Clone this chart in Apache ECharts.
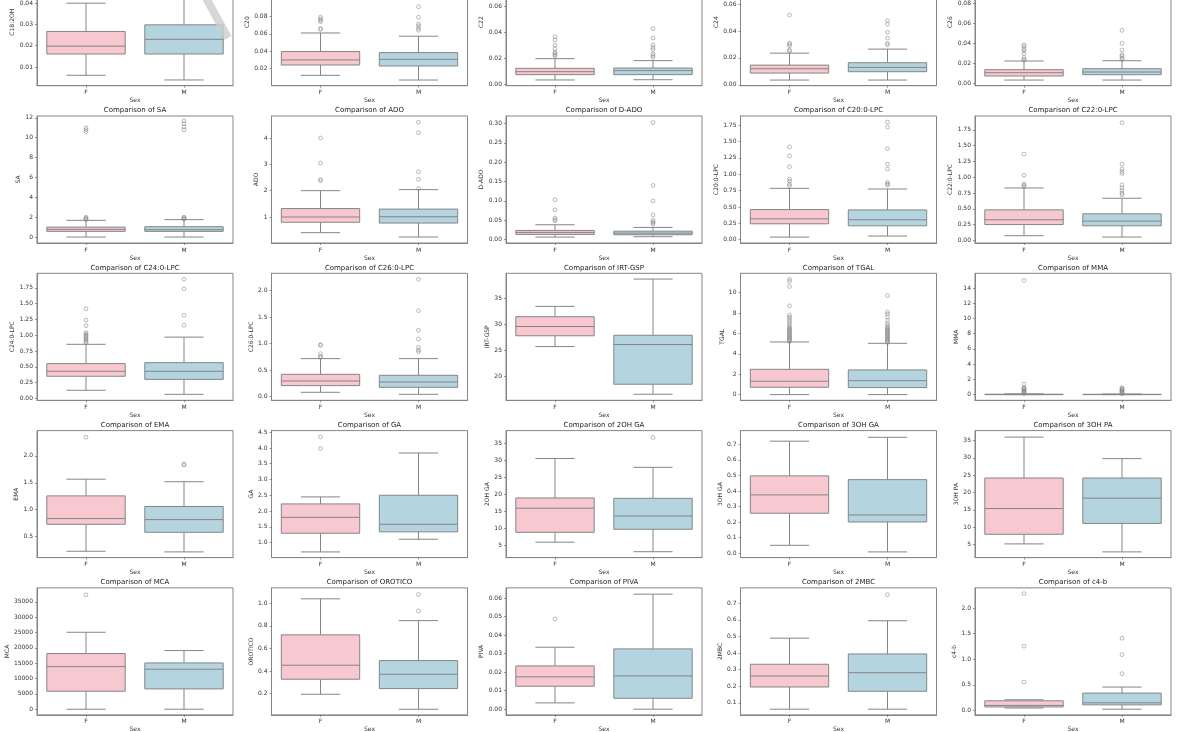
<!DOCTYPE html>
<html lang="en">
<head>
<meta charset="UTF-8">
<title>Comparison by Sex</title>
<style>
    html,
    body,
    #chart {
        margin: 0;
        padding: 0;
        width: 100%;
        height: 100%;
        overflow: hidden;
        background: #fff;
    }
</style>
</head>
<body>
<div id="chart"></div>
<script src="https://cdn.jsdelivr.net/npm/echarts@6.0.0/dist/echarts.min.js"></script>
<script>
    var metrics = ['C18:2OH', 'C20', 'C22', 'C24', 'C26',
        'SA', 'ADO', 'D-ADO', 'C20:0-LPC', 'C22:0-LPC',
        'C24:0-LPC', 'C26:0-LPC', 'IRT-GSP', 'TGAL', 'MMA',
        'EMA', 'GA', '2OH GA', '3OH GA', '3OH PA',
        'MCA', 'OROTICO', 'PIVA', '2MBC', 'c4-b'];
    var sexes = ['F', 'M'];

    // [whisker low, q1, median, q3, whisker high]
    var femaleBox = [
        [0.0061, 0.0161, 0.0198, 0.0267, 0.0400],
        [0.0124, 0.0242, 0.0300, 0.0396, 0.0609],
        [0.0036, 0.0077, 0.0100, 0.0126, 0.0200],
        [0.0035, 0.0087, 0.0119, 0.0146, 0.0235],
        [0.0036, 0.0076, 0.0109, 0.0139, 0.0225],
        [0.0, 0.57, 0.77, 1.0, 1.68],
        [0.405, 0.80, 1.0, 1.32, 2.0],
        [0.0068, 0.0137, 0.0188, 0.024, 0.0385],
        [0.04, 0.243, 0.319, 0.46, 0.784],
        [0.0735, 0.25, 0.326, 0.483, 0.83],
        [0.127, 0.349, 0.428, 0.55, 0.856],
        [0.082, 0.208, 0.296, 0.421, 0.717],
        [25.7, 27.8, 29.6, 31.5, 33.5],
        [0, 0.72, 1.31, 2.48, 5.16],
        [0, 0, 0.02, 0.05, 0.1],
        [0.228, 0.729, 0.835, 1.257, 1.567],
        [0.704, 1.296, 1.80, 2.226, 2.448],
        [6.0, 8.9, 16.0, 19.0, 30.6],
        [0.051, 0.257, 0.375, 0.497, 0.72],
        [5.2, 7.98, 15.4, 24.2, 36.0],
        [0, 5870, 13900, 18150, 25100],
        [0.194, 0.327, 0.451, 0.72, 1.039],
        [0.0034, 0.0124, 0.0175, 0.0234, 0.0335],
        [0.062, 0.196, 0.262, 0.333, 0.49],
        [0.05, 0.07, 0.10, 0.19, 0.21]
    ];
    var maleBox = [
        [0.0039, 0.0161, 0.0230, 0.0298, 0.0500],
        [0.0070, 0.0231, 0.0307, 0.0384, 0.0572],
        [0.0038, 0.0077, 0.0108, 0.0128, 0.0185],
        [0.0035, 0.0097, 0.0129, 0.0164, 0.0265],
        [0.0036, 0.0089, 0.0116, 0.0149, 0.0228],
        [0.0, 0.57, 0.74, 1.04, 1.75],
        [0.24, 0.77, 1.01, 1.30, 2.04],
        [0.0077, 0.0128, 0.017, 0.022, 0.0316],
        [0.056, 0.2125, 0.304, 0.455, 0.774],
        [0.0525, 0.231, 0.305, 0.42, 0.667],
        [0.063, 0.30, 0.428, 0.565, 0.97],
        [0.044, 0.176, 0.277, 0.403, 0.717],
        [16.45, 18.4, 26.1, 27.9, 38.8],
        [0, 0.69, 1.37, 2.42, 5.03],
        [0, 0, 0.02, 0.04, 0.08],
        [0.216, 0.58, 0.816, 1.06, 1.52],
        [1.106, 1.34, 1.58, 2.50, 3.84],
        [3.2, 9.8, 13.7, 18.9, 28.0],
        [0.0086, 0.201, 0.246, 0.473, 0.745],
        [2.9, 11.1, 18.4, 24.2, 29.8],
        [0, 6630, 13040, 15100, 19130],
        [0.061, 0.244, 0.371, 0.492, 0.846],
        [0.0, 0.0059, 0.018, 0.0326, 0.0622],
        [0.062, 0.17, 0.282, 0.395, 0.595],
        [0.026, 0.111, 0.15, 0.34, 0.458]
    ];

    var femaleOutliers = [
        [],
        [0.065, 0.066, 0.074, 0.075, 0.077, 0.079],
        [0.022, 0.023, 0.024, 0.025, 0.0275, 0.0305, 0.0345, 0.0368],
        [0.025, 0.0258, 0.029, 0.030, 0.031, 0.0518],
        [0.0235, 0.024, 0.026, 0.030, 0.0327, 0.0344, 0.0368, 0.0385],
        [1.75, 1.8, 1.9, 2.0, 10.6, 10.8, 11.0],
        [2.38, 2.42, 3.05, 4.0],
        [0.049, 0.052, 0.056, 0.077, 0.103],
        [0.825, 0.85, 0.896, 0.926, 1.113, 1.28, 1.417],
        [0.85, 0.872, 0.893, 1.03, 1.366],
        [0.88, 0.90, 0.92, 0.94, 0.96, 0.98, 1.0, 1.02, 1.04, 1.15, 1.24, 1.42],
        [0.74, 0.76, 0.81, 0.97, 0.98],
        [],
        [5.2, 5.3, 5.4, 5.5, 5.6, 5.7, 5.8, 5.9, 6.0, 6.1, 6.2, 6.3, 6.4, 6.5, 6.6, 6.8, 7.0, 7.2, 7.4, 7.6, 7.8, 8.7, 10.6, 11.1, 11.3],
        [0.15, 0.25, 0.35, 0.45, 0.55, 0.65, 0.75, 0.85, 0.95, 1.4, 15.0],
        [2.347],
        [3.98, 4.35],
        [],
        [],
        [],
        [37300],
        [],
        [0.0488],
        [],
        [0.556, 1.255, 2.28]
    ];
    var maleOutliers = [
        [0.057],
        [0.064, 0.066, 0.069, 0.071, 0.079, 0.091, 0.138],
        [0.021, 0.0223, 0.0236, 0.027, 0.0285, 0.0305, 0.0359, 0.0431, 0.092],
        [0.0297, 0.0307, 0.0347, 0.039, 0.045, 0.0476],
        [0.0241, 0.0255, 0.0274, 0.0288, 0.0334, 0.040, 0.0529],
        [1.8, 1.85, 1.95, 2.0, 10.8, 11.1, 11.4, 11.7],
        [2.08, 2.43, 2.72, 4.2, 4.6],
        [0.04, 0.043, 0.046, 0.05, 0.064, 0.10, 0.14, 0.302],
        [0.835, 0.85, 0.875, 1.078, 1.154, 1.39, 1.72, 1.796],
        [0.72, 0.745, 0.79, 0.83, 0.88, 1.06, 1.09, 1.13, 1.208, 1.865],
        [1.157, 1.316, 1.734, 1.887],
        [0.85, 0.88, 0.931, 1.088, 1.252, 1.623, 2.214],
        [],
        [5.1, 5.2, 5.3, 5.4, 5.5, 5.6, 5.7, 5.8, 5.9, 6.0, 6.1, 6.2, 6.3, 6.4, 6.5, 6.6, 6.8, 7.0, 7.3, 7.6, 7.9, 8.1, 9.7],
        [0.12, 0.2, 0.3, 0.4, 0.5, 0.6, 0.7, 0.8, 0.9],
        [1.83, 1.85],
        [],
        [36.8],
        [],
        [],
        [],
        [0.932, 1.077],
        [],
        [0.752],
        [0.72, 1.09, 1.41]
    ];

    var yRange = [
        [0.0012, 0.0609], [0.0005, 0.146], [-0.0008, 0.0969], [-0.0007, 0.0937], [-0.002, 0.124],
        [-0.6, 12.18], [0.013, 4.835], [-0.0085, 0.319], [-0.05, 1.888], [-0.042, 1.97],
        [-0.032, 1.982], [-0.069, 2.327], [15.28, 39.92], [-0.556, 11.89], [-0.744, 15.93],
        [0.110, 2.47], [0.524, 4.55], [1.47, 38.8], [-0.028, 0.788], [1.25, 37.88],
        [-1848, 39565], [0.011, 1.136], [-0.0031, 0.0656], [0.0277, 0.793], [-0.085, 2.392]
    ];
    var yTicks = [
        [0.01, 0.02, 0.03, 0.04, 0.05, 0.06],
        [0.02, 0.04, 0.06, 0.08, 0.10, 0.12, 0.14],
        [0.00, 0.02, 0.04, 0.06, 0.08],
        [0.00, 0.02, 0.04, 0.06, 0.08],
        [0.00, 0.02, 0.04, 0.06, 0.08, 0.10, 0.12],
        [0, 2, 4, 6, 8, 10, 12],
        [1, 2, 3, 4],
        [0.00, 0.05, 0.10, 0.15, 0.20, 0.25, 0.30],
        [0.00, 0.25, 0.50, 0.75, 1.00, 1.25, 1.50, 1.75],
        [0.00, 0.25, 0.50, 0.75, 1.00, 1.25, 1.50, 1.75],
        [0.00, 0.25, 0.50, 0.75, 1.00, 1.25, 1.50, 1.75],
        [0.0, 0.5, 1.0, 1.5, 2.0],
        [20, 25, 30, 35],
        [0, 2, 4, 6, 8, 10],
        [0, 2, 4, 6, 8, 10, 12, 14],
        [0.5, 1.0, 1.5, 2.0],
        [1.0, 1.5, 2.0, 2.5, 3.0, 3.5, 4.0, 4.5],
        [5, 10, 15, 20, 25, 30, 35],
        [0.0, 0.1, 0.2, 0.3, 0.4, 0.5, 0.6, 0.7],
        [5, 10, 15, 20, 25, 30, 35],
        [0, 5000, 10000, 15000, 20000, 25000, 30000, 35000],
        [0.2, 0.4, 0.6, 0.8, 1.0],
        [0.00, 0.01, 0.02, 0.03, 0.04, 0.05, 0.06],
        [0.1, 0.2, 0.3, 0.4, 0.5, 0.6, 0.7],
        [0.0, 0.5, 1.0, 1.5, 2.0]
    ];

    var boxColors = ['#f7c8d0', '#b4d4df'];
    var lineColor = '#858585';
    var frameColor = '#858585';
    var textColor = '#333';
    var fontFamily = 'DejaVu Sans';
    var smallSize = 6;
    var titleSize = 7;

    function decimalsOf(ticks) {
        var d = 0;
        ticks.forEach(function (t) {
            var s = String(t).split('.')[1];
            if (s && s.length > d) d = s.length;
        });
        return d;
    }

    // rough DejaVu Sans width of a numeric label
    function labelWidth(str) {
        var w = 0;
        for (var k = 0; k < str.length; k++) {
            w += str[k] === '.' ? 0.318 : 0.636;
        }
        return w * smallSize;
    }

    function renderBox(params, api) {
        var x = api.value(0);
        var pLo = api.coord([x, api.value(1)]);
        var pQ1 = api.coord([x, api.value(2)]);
        var pMed = api.coord([x, api.value(3)]);
        var pQ3 = api.coord([x, api.value(4)]);
        var pHi = api.coord([x, api.value(5)]);
        var band = api.size([1, 0])[0];
        var hw = band * 0.4, cw = band * 0.2, cx = pMed[0];
        var line = { stroke: lineColor, lineWidth: 1 };
        return {
            type: 'group',
            children: [
                { type: 'line', shape: { x1: cx, y1: pQ1[1], x2: cx, y2: pLo[1] }, style: line },
                { type: 'line', shape: { x1: cx, y1: pQ3[1], x2: cx, y2: pHi[1] }, style: line },
                { type: 'line', shape: { x1: cx - cw, y1: pLo[1], x2: cx + cw, y2: pLo[1] }, style: line },
                { type: 'line', shape: { x1: cx - cw, y1: pHi[1], x2: cx + cw, y2: pHi[1] }, style: line },
                {
                    type: 'rect',
                    shape: { x: cx - hw, y: pQ3[1], width: hw * 2, height: pQ1[1] - pQ3[1] },
                    style: { fill: boxColors[x], stroke: lineColor, lineWidth: 1 }
                },
                { type: 'line', shape: { x1: cx - hw, y1: pMed[1], x2: cx + hw, y2: pMed[1] }, style: line }
            ]
        };
    }

    var chart = echarts.init(document.getElementById('chart'));
    var grids = [], xAxes = [], yAxes = [], series = [], texts = [];

    metrics.forEach(function (name, i) {
        var row = Math.floor(i / 5), col = i % 5;
        var left = 37 + 234.5 * col, top = -41.3 + 157.3 * row;
        var w = 196, h = 127;
        var dec = decimalsOf(yTicks[i]);
        var widest = 0;
        yTicks[i].forEach(function (t) {
            widest = Math.max(widest, labelWidth(t.toFixed(dec)));
        });

        grids.push({
            left: left, top: top, width: w, height: h,
            show: true, borderColor: frameColor, borderWidth: 1,
            outerBoundsMode: 'none', containLabel: false
        });

        xAxes.push({
            type: 'category', gridIndex: i, data: sexes,
            name: 'Sex', nameLocation: 'middle', nameGap: 12,
            nameTextStyle: { fontSize: smallSize, color: textColor, fontFamily: fontFamily },
            axisLine: { show: true, onZero: false, lineStyle: { color: frameColor, width: 1 } },
            axisTick: { show: true, alignWithLabel: true, length: 2, lineStyle: { color: '#555', width: 0.6 } },
            axisLabel: { fontSize: smallSize, color: textColor, fontFamily: fontFamily, margin: 4 },
            splitLine: { show: false }
        });

        yAxes.push({
            type: 'value', gridIndex: i,
            min: yRange[i][0], max: yRange[i][1],
            name: name, nameLocation: 'middle', nameGap: widest + 6.5,
            nameTextStyle: { fontSize: smallSize, color: textColor, fontFamily: fontFamily },
            axisLine: { show: true, onZero: false, lineStyle: { color: frameColor, width: 1 } },
            axisTick: { show: true, length: 2, customValues: yTicks[i], lineStyle: { color: '#555', width: 0.6 } },
            axisLabel: {
                fontSize: smallSize, color: textColor, fontFamily: fontFamily, margin: 4,
                customValues: yTicks[i],
                formatter: function (v) { return (+v).toFixed(dec); }
            },
            splitLine: { show: false }
        });

        series.push({
            type: 'custom', xAxisIndex: i, yAxisIndex: i, clip: true, z: 2,
            renderItem: renderBox,
            encode: { x: 0, y: [1, 2, 3, 4, 5] },
            data: [[0].concat(femaleBox[i]), [1].concat(maleBox[i])]
        });

        var pts = femaleOutliers[i].map(function (v) { return [0, v]; })
            .concat(maleOutliers[i].map(function (v) { return [1, v]; }));
        series.push({
            type: 'scatter', xAxisIndex: i, yAxisIndex: i, clip: true, z: 3,
            symbol: 'circle', symbolSize: 3.8,
            itemStyle: { color: 'rgba(255,255,255,0)', borderColor: lineColor, borderWidth: 0.7 },
            data: pts
        });

        texts.push({
            type: 'text', silent: true,
            style: {
                text: 'Comparison of ' + name,
                x: left + w / 2, y: top - 5.5,
                textAlign: 'center', textVerticalAlign: 'middle',
                fontSize: titleSize, fontFamily: fontFamily, fill: '#222'
            }
        });
    });

    // faint grey streak over the top-left panel
    texts.push({
        type: 'line', silent: true, z: 10,
        shape: { x1: 206, y1: -2, x2: 228, y2: 38 },
        style: { stroke: 'rgba(205,205,205,0.8)', lineWidth: 8 }
    });

    chart.setOption({
        animation: false,
        backgroundColor: '#fff',
        grid: grids,
        xAxis: xAxes,
        yAxis: yAxes,
        series: series,
        graphic: texts
    });
</script>
</body>
</html>
